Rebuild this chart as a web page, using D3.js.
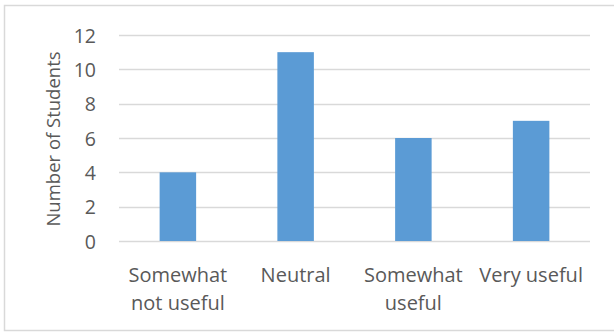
<!DOCTYPE html>
<html>
<head>
<meta charset="utf-8">
<script src="https://cdn.jsdelivr.net/npm/d3@7"></script>
<style>
  html, body { margin: 0; padding: 0; background: #fff; }
  svg { display: block; }
  text { font-family: "Open Sans", "Liberation Sans", sans-serif; fill: #595959; }
</style>
</head>
<body>
<svg id="chart" width="614" height="334"></svg>
<script>
// Survey responses
const categories = ["Somewhat not useful", "Neutral", "Somewhat useful", "Very useful"];
const categoryLines = [["Somewhat", "not useful"], ["Neutral"], ["Somewhat", "useful"], ["Very useful"]];
const counts = [4, 11, 6, 7];
const yTicks = [0, 2, 4, 6, 8, 10, 12];
const yTitle = "Number of Students";

const svg = d3.select("#chart");
const plot = { left: 119, right: 590, top: 35, bottom: 241 };

// outer frame
svg.append("rect")
  .attr("x", 4.5).attr("y", 5.5)
  .attr("width", 612).attr("height", 325)
  .attr("fill", "#fff").attr("stroke", "#d9d9d9").attr("stroke-width", 1.5);

const x = d3.scaleBand()
  .domain(categories)
  .range([plot.left, plot.right])
  .paddingInner(0.69)
  .paddingOuter(0.345);

const y = d3.scaleLinear().domain([0, 12]).range([plot.bottom, plot.top]);

// gridlines
svg.append("g")
  .selectAll("line")
  .data(yTicks)
  .join("line")
  .attr("x1", plot.left).attr("x2", plot.right)
  .attr("y1", d => Math.round(y(d)) + 0.5).attr("y2", d => Math.round(y(d)) + 0.5)
  .attr("stroke", "#d9d9d9").attr("stroke-width", 1.3);

// y axis labels
const yAxis = d3.axisLeft(y).tickValues(yTicks).tickSize(0).tickPadding(0);
const yg = svg.append("g").attr("transform", `translate(${plot.left - 23},0)`).call(yAxis);
yg.select(".domain").remove();
yg.selectAll("text")
  .attr("font-size", 19.5)
  .attr("dy", "0.36em")
  .style("font-family", "'Open Sans', sans-serif")
  .attr("fill", "#595959");

// bars
svg.append("g")
  .selectAll("rect")
  .data(counts)
  .join("rect")
  .attr("x", (d, i) => x(categories[i]))
  .attr("width", x.bandwidth())
  .attr("y", d => y(d))
  .attr("height", d => y(0) - y(d))
  .attr("fill", "#5b9bd5");

// category labels
const labels = svg.append("g")
  .selectAll("text")
  .data(categoryLines)
  .join("text")
  .attr("text-anchor", "middle")
  .attr("font-size", 20)
  .attr("x", (d, i) => x(categories[i]) + x.bandwidth() / 2)
  .attr("y", 282);
labels.selectAll("tspan")
  .data(d => d)
  .join("tspan")
  .attr("x", function () { return this.parentNode.getAttribute("x"); })
  .attr("dy", (d, i) => i === 0 ? 0 : 28)
  .text(d => d);

// y axis title
svg.append("text")
  .attr("transform", `translate(60,139) rotate(-90)`)
  .attr("text-anchor", "middle")
  .attr("font-size", 18.5)
  .text(yTitle);
</script>
</body>
</html>
